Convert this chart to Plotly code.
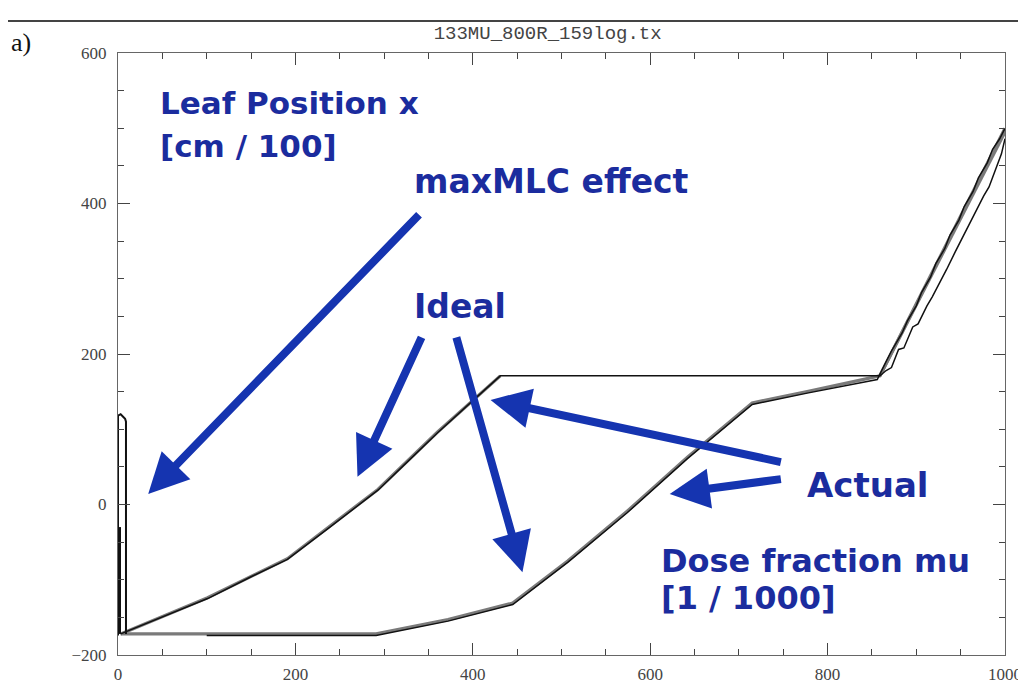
import plotly.graph_objects as go

# ---------------- data ----------------
# Leaf A (upper curve) - ideal and actual
leafA_ideal_x = [3, 101, 191, 293, 360, 431, None, 859, 1000]
leafA_ideal_y = [-172, -124, -72, 20, 96, 171, None, 171, 495]
leafA_act_x = [3, 50, 101, 150, 191, 240, 293, 330, 360, 400, 431, 859,
               866, 872, 880, 886, 896, 902, 912, 918, 928, 934, 944, 950,
               960, 966, 976, 982, 992, 996, 1000]
leafA_act_y = [-172, -149, -125, -96, -73, -29, 19, 61, 95, 138, 171, 171,
               178, 182, 206, 208, 236, 240, 264, 276, 298, 312, 336, 350,
               372, 386, 410, 422, 452, 466, 486]

# Leaf B (lower curve) - ideal and actual
leafB_ideal_x = [3, 291, 372, 445, 507, 574, 642, 715, 777, 859, 1000]
leafB_ideal_y = [-172, -172, -153, -131, -75, -9, 63, 135, 150, 171, 500]
leafB_act_x = [100, 291, 372, 445, 507, 574, 642, 715, 777, 856,
               866, 872, 884, 890, 900, 906, 916, 922, 932, 938, 948, 954,
               964, 970, 980, 986, 994, 1000]
leafB_act_y = [-174, -174, -155, -133, -77, -11, 61, 133, 148, 166,
               190, 204, 228, 244, 264, 282, 302, 320, 340, 358, 378, 396,
               416, 434, 454, 472, 486, 500]

# maxMLC effect spike near mu = 0
spike_x = [0, 0, 3, 8, 9, 9]
spike_y = [-174, 118, 120, 114, 110, -172]
spike2_x = [2, 2]
spike2_y = [-172, -30]

x_ticks = [0, 200, 400, 600, 800, 1000]
y_ticks = [-200, 0, 200, 400, 600]

txt_color = "#1b2c9e"
arrow_color = "#1534b0"

fig = go.Figure()

ideal_style = dict(color="#7a7a7a", width=3.2)
act_style = dict(color="#111111", width=1.5)

fig.add_trace(go.Scatter(x=leafA_ideal_x, y=leafA_ideal_y, mode="lines", line=ideal_style,
                         connectgaps=False, hoverinfo="skip"))
fig.add_trace(go.Scatter(x=leafB_ideal_x, y=leafB_ideal_y, mode="lines", line=ideal_style, hoverinfo="skip"))
fig.add_trace(go.Scatter(x=leafA_act_x, y=leafA_act_y, mode="lines", line=act_style, hoverinfo="skip"))
fig.add_trace(go.Scatter(x=leafB_act_x, y=leafB_act_y, mode="lines", line=act_style, hoverinfo="skip"))
fig.add_trace(go.Scatter(x=spike_x, y=spike_y, mode="lines", line=dict(color="#111111", width=2), hoverinfo="skip"))
fig.add_trace(go.Scatter(x=spike2_x, y=spike2_y, mode="lines", line=dict(color="#111111", width=2.5), hoverinfo="skip"))

# ---------- text labels ----------
labels = [
    ("<b>Leaf Position x</b>", 45, 533, 31),
    ("<b>[cm / 100]</b>", 45, 477, 31),
    ("<b>maxMLC effect</b>", 332, 429, 33),
    ("<b>Ideal</b>", 332, 263, 33),
    ("<b>Actual</b>", 774, 26, 34),
    ("<b>Dose fraction mu</b>", 610, -75, 32),
    ("<b>[1 / 1000]</b>", 610, -124, 32),
]
for t, x, y, s in labels:
    fig.add_annotation(text=t, x=x, y=y, xref="x", yref="y", xanchor="left", yanchor="middle",
                       showarrow=False, font=dict(family="DejaVu Sans", size=s, color=txt_color))

# ---------- arrows (head x,y ; tail ax,ay in data coords) ----------
arrows = [
    (34, 14, 341, 387),
    (270, 37, 343, 224),
    (456, -90, 381, 224),
    (420, 139, 749, 56),
    (622, 14, 749, 34),
]
for x, y, ax, ay in arrows:
    fig.add_annotation(x=x, y=y, ax=ax, ay=ay, xref="x", yref="y", axref="x", ayref="y",
                       showarrow=True, arrowhead=2, arrowsize=1, arrowwidth=8,
                       arrowcolor=arrow_color, text="")

# panel label and top rule
fig.add_annotation(text="a)", xref="paper", yref="paper", x=-0.123, y=1.017, xanchor="left",
                   yanchor="middle", showarrow=False,
                   font=dict(family="Liberation Serif", size=26, color="#111111"))
fig.add_shape(type="line", xref="paper", yref="paper", x0=-0.2, x1=1.1, y0=1.053, y1=1.053,
              line=dict(color="#444444", width=2))

axis_common = dict(
    showgrid=False, zeroline=False, showline=True, linecolor="#666666", linewidth=1,
    mirror="allticks", ticks="inside", ticklen=12, tickwidth=1, tickcolor="#444444",
    tickfont=dict(family="Liberation Sans Narrow", size=17, color="#444444"),
    minor=dict(ticks="inside", ticklen=6, tickcolor="#444444", tickwidth=1),
)

fig.update_layout(
    width=1026, height=688,
    margin=dict(l=110, r=28, t=45, b=32),
    paper_bgcolor="white", plot_bgcolor="white",
    showlegend=False,
    title=dict(text="133MU_800R_159log.tx", x=0.526, xanchor="center", y=0.965, yanchor="middle",
               font=dict(family="Liberation Mono", size=19, color="#444444")),
    xaxis=dict(range=[0, 1000], tickvals=x_ticks, ticktext=[str(v) for v in x_ticks],
               minor_dtick=50, ticklabelstandoff=4, **axis_common),
    yaxis=dict(range=[-200, 600], tickvals=y_ticks, ticktext=[str(v).replace("-", "\u2212") for v in y_ticks],
               minor_dtick=50, ticklabelstandoff=7, **axis_common),
)

fig.write_html("out.html")
